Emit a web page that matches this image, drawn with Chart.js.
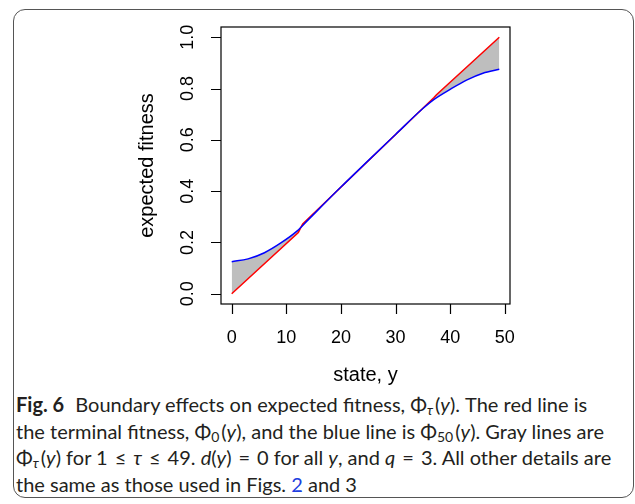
<!DOCTYPE html>
<html>
<head>
<meta charset="utf-8">
<script src="https://cdn.jsdelivr.net/npm/chart.js@4"></script>
<style>
  body { margin: 0; background: #fff; width: 635px; height: 504px; overflow: hidden; position: relative; }
  #frame { position: absolute; left: 13px; top: 9px; width: 619px; height: 487px; border: 1.3px solid #555; border-radius: 12px; }
  #plot { position: absolute; left: 0; top: 0; }
  #caption { position: absolute; left: 16px; top: 391px; font-family: Lato, "Open Sans", sans-serif; font-size: 20px; line-height: 26.7px; color: #231f20; white-space: nowrap; }
  #caption b { font-weight: bold; margin-right: 6px; }
  #caption sub { font-size: 70%; vertical-align: -3px; line-height: 0; margin-right: 2px; }
  #caption .op { margin: 0 7px; }
  #caption .ln { color: #2040e0; }
</style>
</head>
<body>
<div id="frame"></div>
<canvas id="plot" width="635" height="390"></canvas>
<div id="caption">
  <div><b>Fig. 6</b> Boundary effects on expected fitness, Φ<sub><i>τ</i></sub>(<i>y</i>). The red line is</div>
  <div>the terminal fitness, Φ<sub>0</sub>(<i>y</i>), and the blue line is Φ<sub>50</sub>(<i>y</i>). Gray lines are</div>
  <div>Φ<sub><i>τ</i></sub>(<i>y</i>) for 1<span class="op">≤</span><i>τ</i><span class="op">≤</span>49. <i>d</i>(<i>y</i>)<span class="op">=</span>0 for all <i>y</i>, and <i>q</i><span class="op">=</span>3. All other details are</div>
  <div>the same as those used in Figs. <span class="ln">2</span> and 3</div>
</div>
<script>
// terminal fitness (red)
var redX = [0, 12.2, 13, 37, 37.5, 49];
var redY = [0, 0.239, 0.272, 0.764, 0.776, 1.0];

// Phi_50 (blue)
var blueX = [0, 3, 6, 9, 12, 14, 20, 25, 30, 35, 37, 40, 43, 46, 49];
var blueY = [0.125, 0.136, 0.160, 0.198, 0.245, 0.288, 0.416, 0.519, 0.621, 0.722, 0.757, 0.797, 0.833, 0.860, 0.875];

var xTicks = [0, 10, 20, 30, 40, 50];
var yTicks = [0, 0.2, 0.4, 0.6, 0.8, 1.0];
var yTickLabels = ['0.0', '0.2', '0.4', '0.6', '0.8', '1.0'];

function pts(xs, ys) {
    return xs.map(function (x, i) { return { x: x, y: ys[i] }; });
}

// draw the R style box, ticks and labels
var rAxes = {
    id: 'rAxes',
    afterDraw: function (chart) {
        var ctx = chart.ctx;
        var a = chart.chartArea;
        var xs = chart.scales.x, ys = chart.scales.y;
        ctx.save();
        ctx.strokeStyle = '#000';
        ctx.lineWidth = 1.2;
        ctx.strokeRect(a.left, a.top, a.right - a.left, a.bottom - a.top);

        ctx.fillStyle = '#000';
        ctx.font = '18px "Liberation Sans", Arial, sans-serif';
        ctx.textAlign = 'center';
        ctx.textBaseline = 'middle';

        ctx.beginPath();
        xTicks.forEach(function (t) {
            var px = Math.round(xs.getPixelForValue(t)) + 0.5;
            ctx.moveTo(px, a.bottom);
            ctx.lineTo(px, a.bottom + 10);
        });
        yTicks.forEach(function (t) {
            var py = Math.round(ys.getPixelForValue(t)) + 0.5;
            ctx.moveTo(a.left, py);
            ctx.lineTo(a.left - 10, py);
        });
        ctx.stroke();

        xTicks.forEach(function (t) {
            ctx.fillText(String(t), xs.getPixelForValue(t), a.bottom + 34);
        });
        yTicks.forEach(function (t, i) {
            ctx.save();
            ctx.translate(a.left - 33, ys.getPixelForValue(t));
            ctx.rotate(-Math.PI / 2);
            ctx.fillText(yTickLabels[i], 0, 0);
            ctx.restore();
        });

        ctx.font = '20px "Liberation Sans", Arial, sans-serif';
        ctx.fillText('state, y', (a.left + a.right) / 2, a.bottom + 71);
        ctx.save();
        ctx.translate(a.left - 74, (a.top + a.bottom) / 2);
        ctx.rotate(-Math.PI / 2);
        ctx.fillText('expected fitness', 0, 0);
        ctx.restore();
        ctx.restore();
    }
};

new Chart(document.getElementById('plot'), {
    type: 'line',
    data: {
        datasets: [{
            label: 'Phi50',
            data: pts(blueX, blueY),
            borderColor: '#0000ff',
            borderWidth: 1.5,
            pointRadius: 0,
            cubicInterpolationMode: 'monotone',
            fill: { target: 1, above: '#bebebe', below: '#bebebe' }
        }, {
            label: 'Phi0',
            data: pts(redX, redY),
            borderColor: '#ff0000',
            borderWidth: 1.5,
            pointRadius: 0,
            tension: 0,
            fill: false
        }]
    },
    options: {
        responsive: false,
        animation: false,
        devicePixelRatio: 1,
        layout: { padding: { left: 221, top: 27, right: 125, bottom: 86 } },
        scales: {
            x: { type: 'linear', min: -1.96, max: 50.96, display: false },
            y: { type: 'linear', min: -0.04, max: 1.04, display: false }
        },
        plugins: {
            legend: { display: false },
            tooltip: { enabled: false },
            filler: { drawTime: 'beforeDatasetsDraw' }
        }
    },
    plugins: [rAxes]
});
</script>
</body>
</html>
